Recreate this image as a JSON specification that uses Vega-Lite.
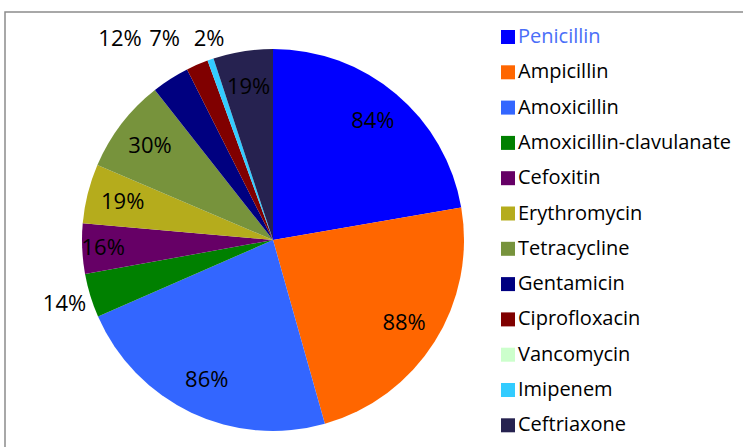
{
  "$schema": "https://vega.github.io/schema/vega-lite/v6.json",
  "width": 800,
  "height": 480,
  "autosize": {"type": "none"},
  "padding": {"left": 5, "top": 12, "right": 0, "bottom": 0},
  "background": "white",
  "config": {
    "view": {"stroke": "#8c8c8c", "strokeWidth": 1.5},
    "font": "Open Sans"
  },
  "data": {
    "values": [
      {"idx": 1, "name": "Penicillin", "value": 84},
      {"idx": 2, "name": "Ampicillin", "value": 88},
      {"idx": 3, "name": "Amoxicillin", "value": 86},
      {"idx": 4, "name": "Amoxicillin-clavulanate", "value": 14},
      {"idx": 5, "name": "Cefoxitin", "value": 16},
      {"idx": 6, "name": "Erythromycin", "value": 19},
      {"idx": 7, "name": "Tetracycline", "value": 30},
      {"idx": 8, "name": "Gentamicin", "value": 12},
      {"idx": 9, "name": "Ciprofloxacin", "value": 7},
      {"idx": 10, "name": "Vancomycin", "value": 0},
      {"idx": 11, "name": "Imipenem", "value": 2},
      {"idx": 12, "name": "Ceftriaxone", "value": 19}
    ]
  },
  "transform": [{"calculate": "datum.value + '%'", "as": "label"}],
  "layer": [
    {
      "mark": {"type": "arc", "x": 268, "y": 228, "outerRadius": 191},
      "encoding": {
        "theta": {"field": "value", "type": "quantitative", "stack": true},
        "order": {"field": "idx", "type": "quantitative"},
        "color": {
          "field": "name",
          "type": "nominal",
          "scale": {
            "domain": ["Penicillin", "Ampicillin", "Amoxicillin", "Amoxicillin-clavulanate", "Cefoxitin", "Erythromycin", "Tetracycline", "Gentamicin", "Ciprofloxacin", "Vancomycin", "Imipenem", "Ceftriaxone"],
            "range": ["#0000FF", "#FF6600", "#3366FF", "#008000", "#660066", "#B5AC1C", "#77933C", "#000080", "#800000", "#CCFFCC", "#33CCFF", "#262250"]
          },
          "legend": {
            "title": null,
            "orient": "none",
            "legendX": 493,
            "legendY": 15,
            "padding": 0,
            "symbolType": "square",
            "symbolSize": 196,
            "symbolStrokeWidth": 0,
            "labelFont": "Open Sans",
            "labelFontSize": 20,
            "labelColor": "#000000",
            "labelOffset": 0,
            "labelLimit": 400,
            "rowPadding": 15.3,
            "encode": {
              "labels": {
                "update": {
                  "fill": {"signal": "datum.label === 'Penicillin' ? '#4A6EF8' : '#000000'"}
                }
              }
            }
          }
        }
      }
    },
    {
      "mark": {"type": "text", "x": 268, "y": 228, "radius": 155, "fontSize": 22, "font": "Open Sans", "color": "#000000"},
      "encoding": {
        "theta": {"field": "value", "type": "quantitative", "stack": true},
        "order": {"field": "idx", "type": "quantitative"},
        "text": {
          "condition": {"test": "indexof(['Penicillin','Ampicillin','Amoxicillin','Erythromycin','Tetracycline','Ceftriaxone'], datum.name) >= 0", "field": "label"},
          "value": ""
        }
      }
    },
    {
      "mark": {"type": "text", "x": 268, "y": 228, "radius": 170, "fontSize": 22, "font": "Open Sans", "color": "#000000"},
      "encoding": {
        "theta": {"field": "value", "type": "quantitative", "stack": true},
        "order": {"field": "idx", "type": "quantitative"},
        "text": {
          "condition": {"test": "datum.name === 'Cefoxitin'", "field": "label"},
          "value": ""
        }
      }
    },
    {
      "mark": {"type": "text", "x": 268, "y": 228, "radius": 218, "fontSize": 22, "font": "Open Sans", "color": "#000000"},
      "encoding": {
        "theta": {"field": "value", "type": "quantitative", "stack": true},
        "order": {"field": "idx", "type": "quantitative"},
        "text": {
          "condition": {"test": "datum.name === 'Amoxicillin-clavulanate'", "field": "label"},
          "value": ""
        }
      }
    },
    {
      "transform": [{"filter": {"field": "name", "oneOf": ["Gentamicin", "Ciprofloxacin", "Imipenem"]}}],
      "mark": {"type": "text", "y": 27, "fontSize": 22, "font": "Open Sans", "color": "#000000"},
      "encoding": {
        "x": {
          "field": "name",
          "type": "nominal",
          "axis": null,
          "scale": {"type": "point", "domain": ["Gentamicin", "Ciprofloxacin", "Imipenem"], "range": [115, 204], "padding": 0}
        },
        "text": {"field": "label"}
      }
    }
  ]
}
